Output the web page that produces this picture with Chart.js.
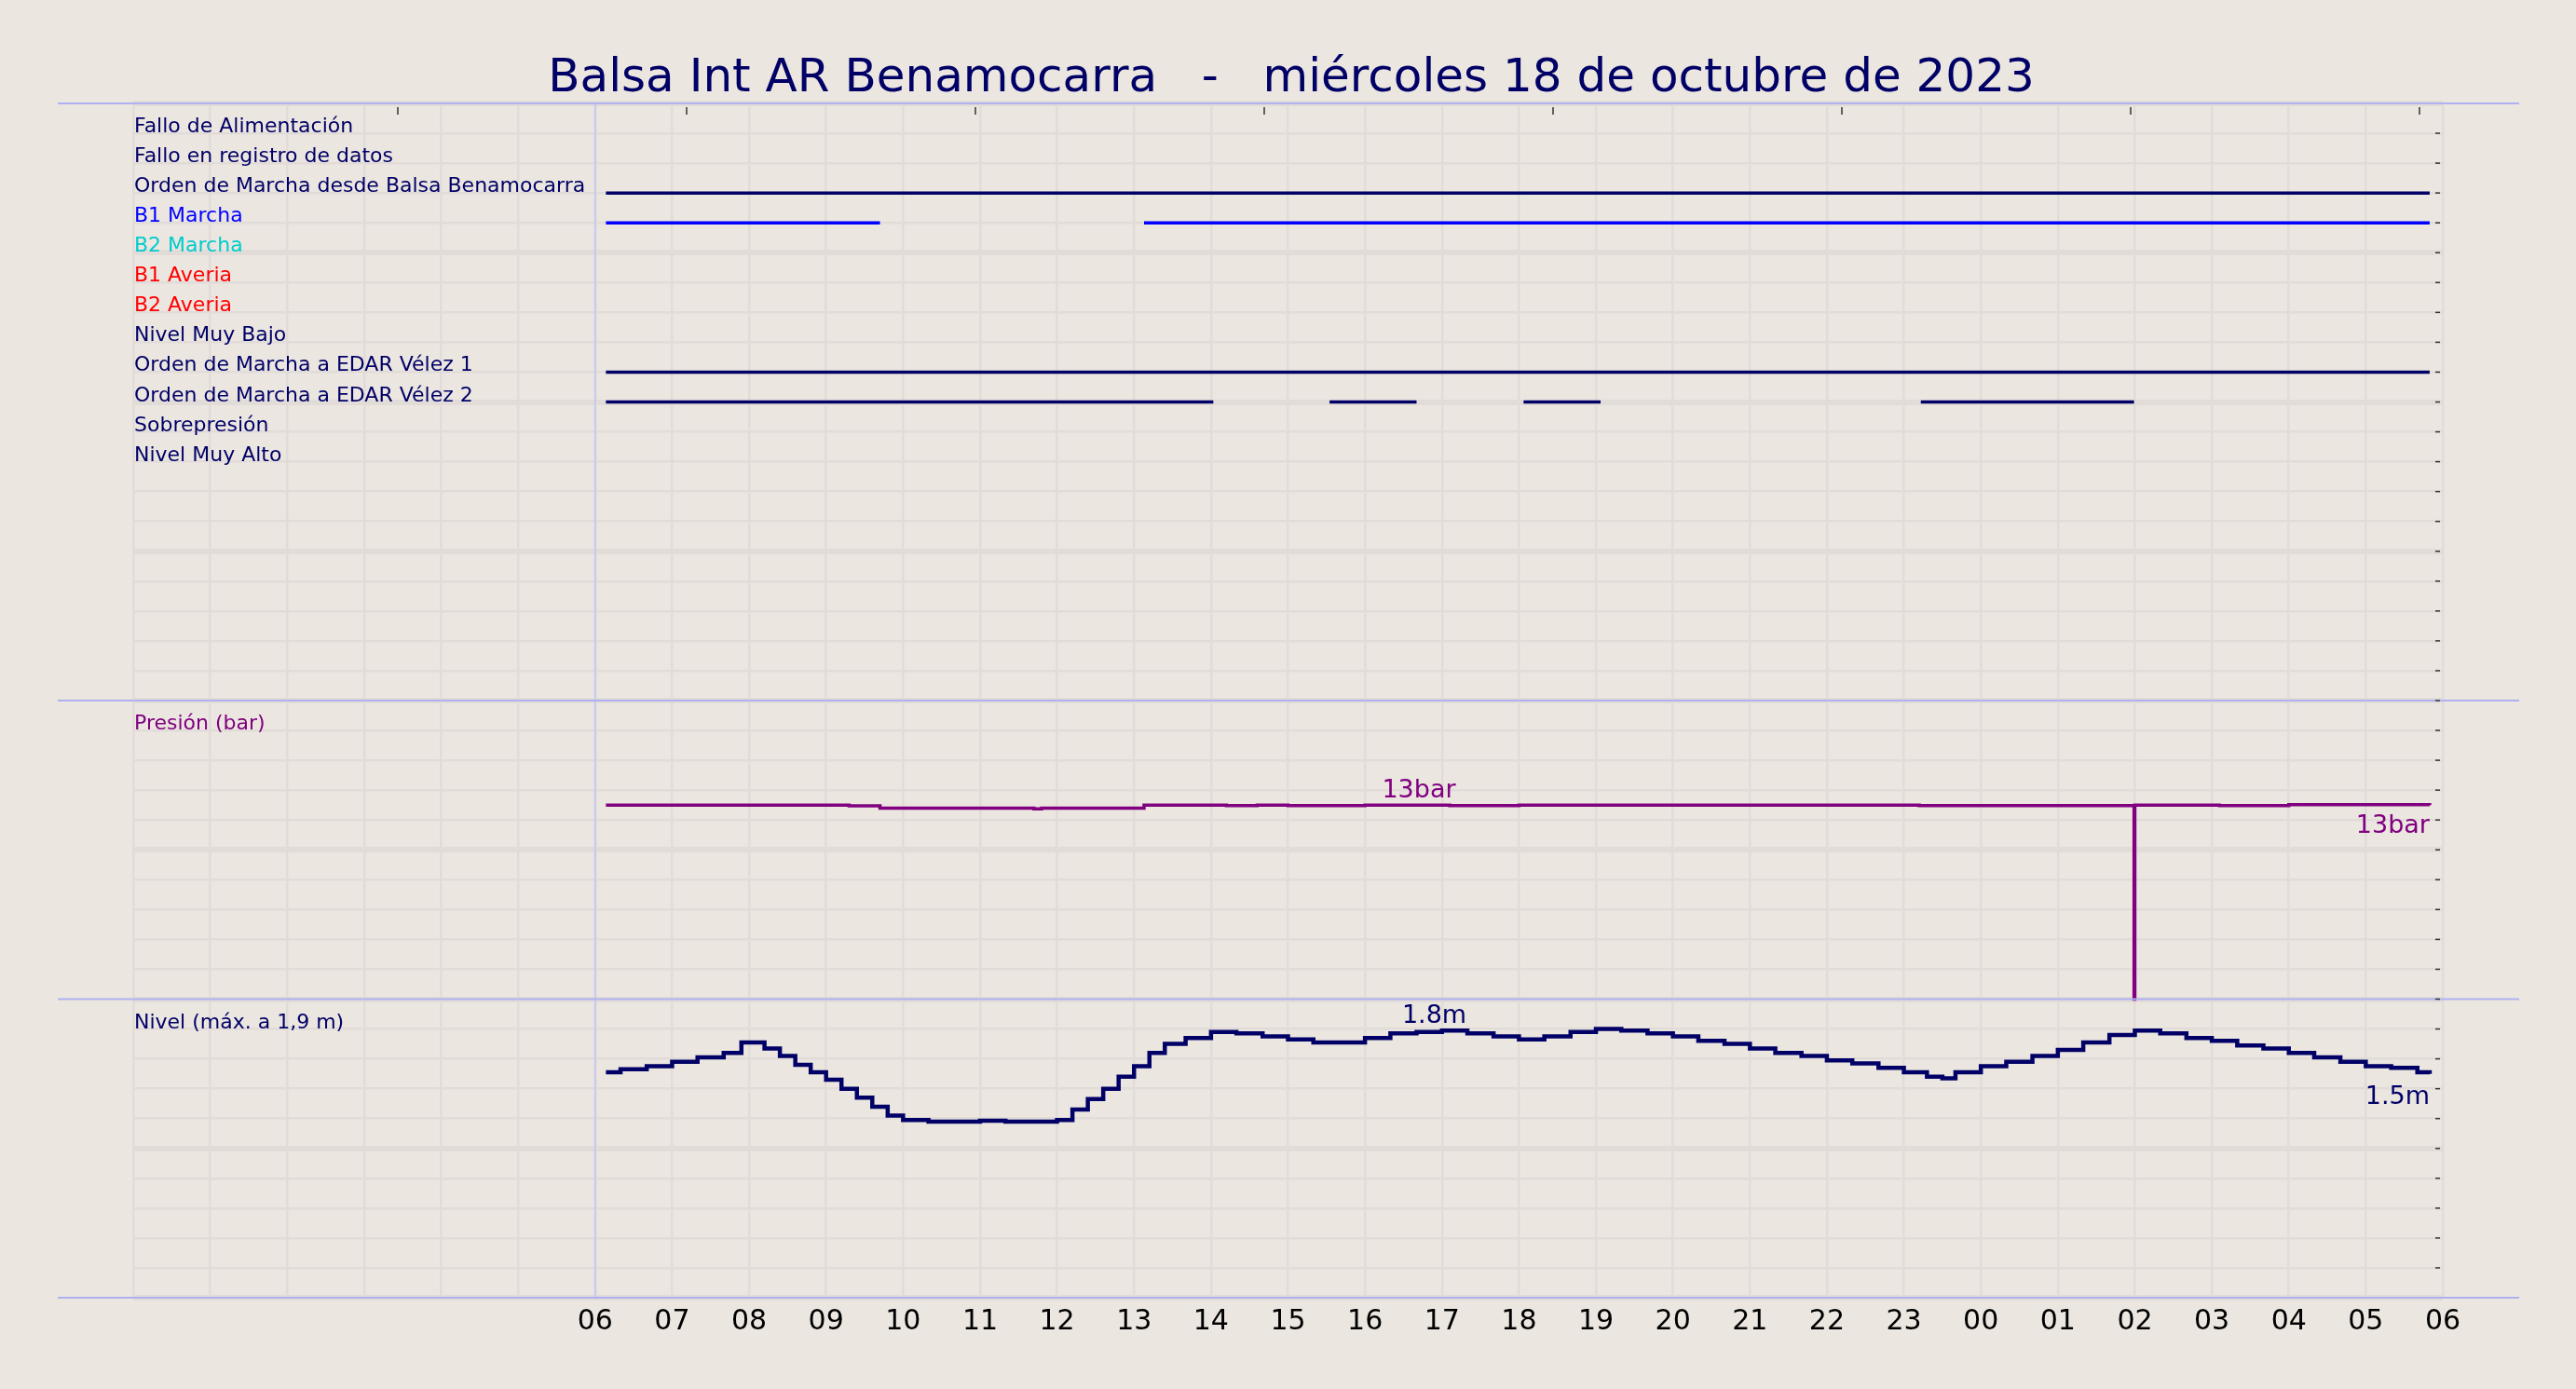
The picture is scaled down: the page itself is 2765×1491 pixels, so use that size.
<!DOCTYPE html>
<html><head><meta charset="utf-8">
<script src="https://cdn.jsdelivr.net/npm/chart.js@4.4.0/dist/chart.umd.min.js"></script>
<style>html,body{margin:0;padding:0;background:#ebe6e0;}canvas{display:block;}</style>
</head><body>
<canvas id="c" width="2765" height="1491"></canvas>
<script>
const TITLE = "Balsa Int AR Benamocarra   -   miércoles 18 de octubre de 2023";
const signalNames = ["Fallo de Alimentación","Fallo en registro de datos","Orden de Marcha desde Balsa Benamocarra","B1 Marcha","B2 Marcha","B1 Averia","B2 Averia","Nivel Muy Bajo","Orden de Marcha a EDAR Vélez 1","Orden de Marcha a EDAR Vélez 2","Sobrepresión","Nivel Muy Alto"];
const signalColors = ["#000066","#000066","#000066","#0000ff","#00cccc","#ff0000","#ff0000","#000066","#000066","#000066","#000066","#000066"];
// on-intervals in hours from 00:00 of the day
const signalOn = [[],[],[[6.14,29.83]],[[6.14,9.70],[13.13,29.83]],[],[],[],[],[[6.14,29.83]],[[6.14,14.03],[15.54,16.67],[18.06,19.06],[23.22,25.99]],[],[]];
const hourLabels = ["06","07","08","09","10","11","12","13","14","15","16","17","18","19","20","21","22","23","00","01","02","03","04","05","06"];
const pressureT = [6.14,9.0,9.3,9.7,11.7,11.8,13.13,14.2,14.6,15.0,16.0,17.1,18.0,23.2,25.99,25.99,26.0,27.1,28.0,29.83];
const pressureV = [13.0,13.0,12.95,12.8,12.75,12.8,13.0,12.97,13.0,12.97,13.0,12.97,13.0,12.97,13.0,0.0,13.0,12.97,13.02,13.0];
const levelT = [6.14,6.33,6.67,7.0,7.33,7.67,7.9,8.2,8.4,8.6,8.8,9.0,9.2,9.4,9.6,9.8,10.0,10.33,10.67,11.0,11.33,11.67,12.0,12.2,12.4,12.6,12.8,13.0,13.2,13.4,13.67,14.0,14.33,14.67,15.0,15.33,15.67,16.0,16.33,16.67,17.0,17.33,17.67,18.0,18.33,18.67,19.0,19.33,19.67,20.0,20.33,20.67,21.0,21.33,21.67,22.0,22.33,22.67,23.0,23.3,23.5,23.67,24.0,24.33,24.67,25.0,25.33,25.67,26.0,26.33,26.67,27.0,27.33,27.67,28.0,28.33,28.67,29.0,29.33,29.67,29.83];
const levelV = [1.51,1.53,1.55,1.58,1.61,1.64,1.71,1.67,1.62,1.56,1.51,1.46,1.40,1.34,1.28,1.22,1.19,1.18,1.18,1.185,1.18,1.18,1.19,1.26,1.33,1.40,1.48,1.55,1.64,1.70,1.74,1.78,1.77,1.75,1.73,1.71,1.71,1.74,1.77,1.78,1.79,1.77,1.75,1.73,1.75,1.78,1.80,1.79,1.77,1.75,1.72,1.70,1.67,1.64,1.62,1.59,1.57,1.54,1.51,1.48,1.47,1.51,1.55,1.58,1.62,1.66,1.71,1.76,1.79,1.77,1.74,1.72,1.69,1.67,1.64,1.61,1.58,1.55,1.54,1.51,1.50];

const sigRow = i => 1 + i;
const presRow = v => 30 - v / 2;
const levRow = v => 40 - v / 0.2;

const datasets = [];
signalOn.forEach((segs, i) => {
  segs.forEach(s => datasets.push({data:[{x:s[0],y:sigRow(i)},{x:s[1],y:sigRow(i)}], borderColor:signalColors[i], borderWidth:3.5, pointRadius:0}));
});
datasets.push({data: pressureT.map((t,k)=>({x:t,y:presRow(pressureV[k])})), borderColor:"#800080", borderWidth:3.5, pointRadius:0, stepped:true});
datasets.push({data: levelT.map((t,k)=>({x:t,y:levRow(levelV[k])})), borderColor:"#000066", borderWidth:4.5, pointRadius:0, stepped:true});

const F = "'DejaVu Sans'";
const deco = {
  id:'deco',
  beforeDatasetsDraw(ch){
    const c = ch.ctx, xs = ch.scales.x, a = ch.chartArea;
    c.save();
    c.strokeStyle = "#c8c8f0"; c.lineWidth = 2;
    c.beginPath(); c.moveTo(xs.getPixelForValue(6), a.top); c.lineTo(xs.getPixelForValue(6), a.bottom); c.stroke();
    c.restore();
  },
  afterDraw(ch){
    const c = ch.ctx, xs = ch.scales.x, ys = ch.scales.y, a = ch.chartArea;
    c.save();
    c.fillStyle = "#000066"; c.font = "50px " + F; c.textAlign = "center"; c.textBaseline = "alphabetic";
    c.fillText(TITLE, 1386, 98);
    c.strokeStyle = "#b0b0f0"; c.lineWidth = 2;
    [0,20,30,40].forEach(r => { const y = ys.getPixelForValue(r); c.beginPath(); c.moveTo(62,y); c.lineTo(2704,y); c.stroke(); });
    c.strokeStyle = "#333"; c.lineWidth = 1.5;
    for (let r = 1; r < 40; r++) { const y = ys.getPixelForValue(r); c.beginPath(); c.moveTo(a.right-8,y); c.lineTo(a.right-3,y); c.stroke(); }
    for (let k = 0; k < 8; k++) { const x = 427 + k*310; c.beginPath(); c.moveTo(x, a.top+4); c.lineTo(x, a.top+12); c.stroke(); }
    c.font = "22px " + F; c.textAlign = "left"; c.textBaseline = "alphabetic";
    signalNames.forEach((n,i) => { c.fillStyle = signalColors[i]; c.fillText(n, a.left+1, ys.getPixelForValue(sigRow(i)) - 1); });
    c.fillStyle = "#800080"; c.fillText("Presión (bar)", a.left+1, ys.getPixelForValue(21)-1);
    c.fillStyle = "#000066"; c.fillText("Nivel (máx. a 1,9 m)", a.left+1, ys.getPixelForValue(31)-1);
    c.font = "27px " + F;
    c.fillStyle = "#800080"; c.textAlign = "center";
    c.fillText("13bar", xs.getPixelForValue(16.7), ys.getPixelForValue(presRow(13)) - 8);
    c.textAlign = "right"; c.fillText("13bar", xs.getPixelForValue(29.83), ys.getPixelForValue(presRow(13)) + 30);
    c.fillStyle = "#000066"; c.textAlign = "center";
    c.fillText("1.8m", xs.getPixelForValue(16.9), ys.getPixelForValue(levRow(1.79)) - 8);
    c.textAlign = "right"; c.fillText("1.5m", xs.getPixelForValue(29.83), ys.getPixelForValue(levRow(1.50)) + 32);
    c.restore();
  }
};

new Chart(document.getElementById('c'), {
  type:'line',
  data:{datasets},
  options:{
    responsive:false, animation:false, devicePixelRatio:1,
    layout:{padding:{left:143, right:143, top:111, bottom:0}},
    plugins:{legend:{display:false}, title:{display:false}, tooltip:{enabled:false}},
    scales:{
      x:{type:'linear', min:0, max:30,
        afterFit(s){ s.height = 98; },
        afterBuildTicks(s){ s.ticks = []; for (let h=0; h<=30; h++) s.ticks.push({value:h}); },
        ticks:{autoSkip:false, maxRotation:0, color:"#000", font:{family:"DejaVu Sans", size:30}, padding:8,
          callback:(v)=> v>=6 ? hourLabels[v-6] : ""},
        grid:{color:"#e2dcd9", lineWidth:2.5, drawTicks:false}, border:{display:false}},
      y:{type:'linear', min:0, max:40, reverse:true, position:'right',
        afterFit(s){ s.width = 0; },
        afterBuildTicks(s){ s.ticks = []; for (let r=0; r<=40; r++) s.ticks.push({value:r}); },
        ticks:{display:false},
        grid:{color:"#e2dcd9", lineWidth:(ctx)=> (ctx.tick && ctx.tick.value%5===0) ? 6 : 2.5, drawTicks:false}, border:{display:false}}
    }
  },
  plugins:[deco]
});
</script>
</body></html>
